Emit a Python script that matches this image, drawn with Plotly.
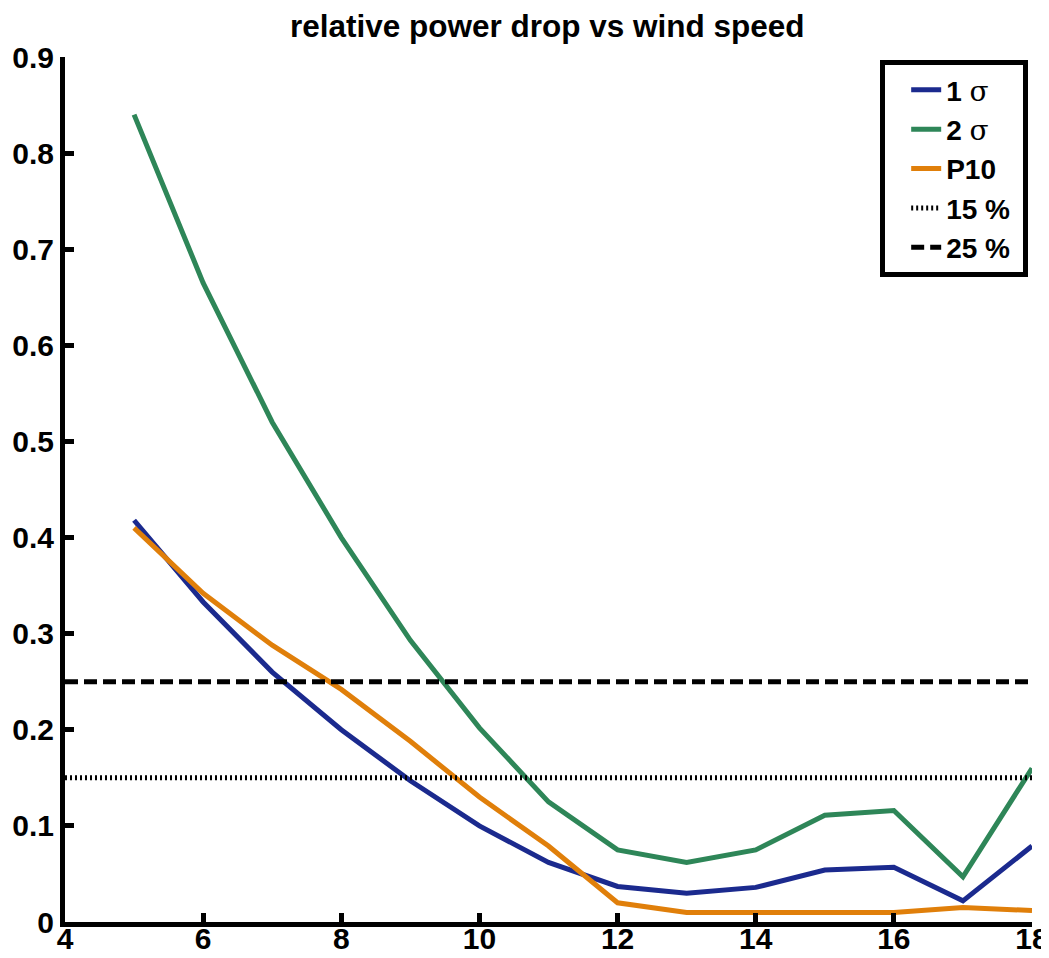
import plotly.graph_objects as go

wind_speed = [5, 6, 7, 8, 9, 10, 11, 12, 13, 14, 15, 16, 17, 18]
sigma1 = [0.418, 0.333, 0.260, 0.200, 0.147, 0.100, 0.062, 0.037, 0.030, 0.036, 0.054, 0.057, 0.022, 0.079]
sigma2 = [0.840, 0.665, 0.520, 0.400, 0.293, 0.202, 0.125, 0.075, 0.062, 0.075, 0.111, 0.116, 0.047, 0.160]
p10 = [0.410, 0.342, 0.288, 0.242, 0.188, 0.130, 0.079, 0.020, 0.010, 0.010, 0.009, 0.010, 0.015, 0.012]
x_range = [4, 18]
level15 = 0.15
level25 = 0.25
x_ticks = [4, 6, 8, 10, 12, 14, 16, 18]
y_ticks = [0, 0.1, 0.2, 0.3, 0.4, 0.5, 0.6, 0.7, 0.8, 0.9]
y_tick_text = ["0", "0.1", "0.2", "0.3", "0.4", "0.5", "0.6", "0.7", "0.8", "0.9"]

sig = "<span style='font-family:\"DejaVu Serif\"; font-weight:normal'>σ</span>"

fig = go.Figure()
fig.add_trace(go.Scatter(x=wind_speed, y=sigma1, mode="lines", name="1 " + sig,
                         line=dict(color="#1b2a8e", width=5)))
fig.add_trace(go.Scatter(x=wind_speed, y=sigma2, mode="lines", name="2 " + sig,
                         line=dict(color="#2e8658", width=5)))
fig.add_trace(go.Scatter(x=wind_speed, y=p10, mode="lines", name="P10",
                         line=dict(color="#e07f0a", width=5)))
fig.add_trace(go.Scatter(x=x_range, y=[level15, level15], mode="lines", name="15 %",
                         line=dict(color="black", width=5, dash="2px,3px")))
fig.add_trace(go.Scatter(x=x_range, y=[level25, level25], mode="lines", name="25 %&nbsp;",
                         line=dict(color="black", width=5, dash="13px,6px")))

axis_font = dict(family="Liberation Sans, Arial", size=30, color="black", weight="bold")

fig.update_layout(
    width=1041, height=950,
    margin=dict(l=57, r=17, t=49, b=36, autoexpand=False),
    paper_bgcolor="white", plot_bgcolor="white",
    title=dict(text="relative power drop vs wind speed", x=0.518, xanchor="center",
               y=0.981, yanchor="middle",
               font=dict(family="Liberation Sans, Arial", size=31.5, color="black", weight="bold")),
    showlegend=True,
    legend=dict(x=0.843, y=0.9965, xanchor="left", yanchor="top",
                bordercolor="black", borderwidth=5, bgcolor="white",
                font=dict(family="Liberation Sans, Arial", size=28, color="black", weight="bold"),
                tracegroupgap=0, indentation=21),
    xaxis=dict(range=x_range, tickvals=x_ticks, showgrid=False, zeroline=False,
               showline=True, linecolor="black", linewidth=5, automargin=False,
               ticks="inside", ticklen=9, tickwidth=5, tickcolor="black",
               ticklabelstandoff=-14, tickfont=axis_font),
    yaxis=dict(range=[0, 0.9], tickvals=y_ticks, ticktext=y_tick_text, showgrid=False, zeroline=False,
               showline=True, linecolor="black", linewidth=5, automargin=False,
               ticks="inside", ticklen=9, tickwidth=5, tickcolor="black",
               tickfont=axis_font),
)

fig.write_html("out.html")
